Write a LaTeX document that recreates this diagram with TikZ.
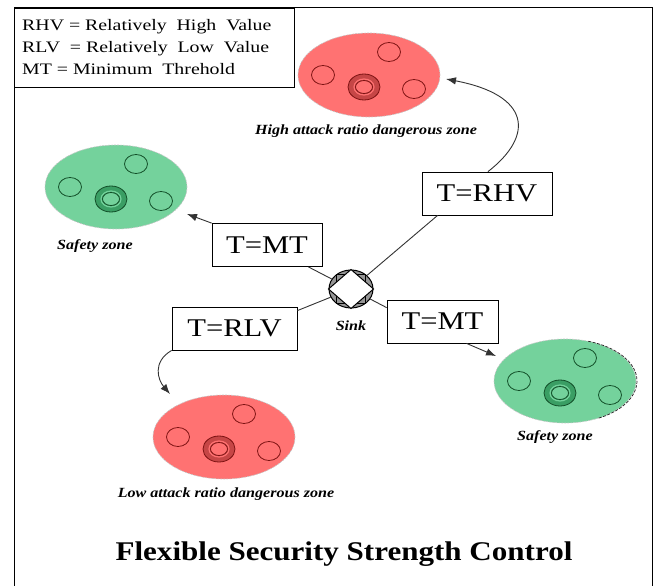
\documentclass[tikz,border=0pt]{standalone}
\usepackage{fontspec}
\setmainfont{Liberation Serif}
\usetikzlibrary{shapes.geometric,arrows.meta}
\definecolor{zonered}{RGB}{255,114,114}
\definecolor{zonegreen}{RGB}{116,210,156}
\definecolor{ringred}{RGB}{198,70,70}
\definecolor{ringgreen}{RGB}{58,158,100}
\definecolor{edgered}{RGB}{125,18,18}
\definecolor{edgegreen}{RGB}{18,78,40}
\definecolor{sinkgray}{RGB}{150,150,150}
% horizontally widened text
\newcommand\wide[2][1.15]{\scalebox{#1}[1]{#2}}

\begin{document}
\begin{tikzpicture}[x=1pt,y=-1pt,
  zone/.style={ellipse, minimum width=142, minimum height=84, inner sep=0,
    draw=gray!45, dash pattern=on 2pt off 1pt, line width=0.6pt},
  redzone/.style={zone, fill=zonered},
  greenzone/.style={zone, fill=zonegreen},
  zonelabel/.style={font=\fontsize{14}{16}\selectfont\bfseries\itshape, inner sep=0},
  tbox/.style={draw, line width=0.8pt, minimum height=43, inner sep=0,
    font=\fontsize{25.5}{30}\selectfont},
  link/.style={line width=0.9pt, black!80},
  arr/.style={link, -{Latex[length=10pt,width=7.5pt]}},
  pics/hosts/.style n args={3}{code={
    \draw[#1, line width=0.8pt]
      (-46,0) ellipse [x radius=11.5, y radius=9.5]
      (20,-23) ellipse [x radius=11.5, y radius=9.5]
      (45,14) ellipse [x radius=11.5, y radius=9.5];
    \draw[#1, fill=#2, line width=0.8pt] (-5,12) ellipse [x radius=16, y radius=13];
    \draw[#3, line width=1.2pt] (-5,12) ellipse [x radius=10, y radius=8];
    \draw[#1, fill=#3, line width=0.8pt] (-5,12) ellipse [x radius=8.5, y radius=6.5];
  }},
]
\useasboundingbox (0,0) rectangle (661,586);
\fill[white] (0,0) rectangle (661,586);

% outer frame
\draw[line width=1pt] (14,586) -- (14,8) -- (652,8) -- (652,586);

% legend
\node[draw, line width=1pt, anchor=north west, minimum width=280, minimum height=79,
  inner sep=0] (legend) at (14,8) {};
\node[anchor=west, inner sep=0, font=\fontsize{16}{22.3}\selectfont] (legendtext) at (22,48)
  {\wide[1.24]{\begin{tabular}{@{}l@{}}
    RHV = Relatively\ \ High\ \ Value\\
    RLV\ \ = Relatively\ \ Low\ \ Value\\
    MT = Minimum\ \ Threhold
  \end{tabular}}};

% zones
\node[redzone] (highzone) at (369,75) {};
\pic at (highzone.center) {hosts={edgered}{ringred}{zonered}};
\node[zonelabel] (highlabel) at (366,131) {\wide{High attack ratio dangerous zone}};

\node[greenzone] (leftsafe) at (116,187) {};
\pic at (leftsafe.center) {hosts={edgegreen}{ringgreen}{zonegreen}};
\node[zonelabel] (leftsafelabel) at (95,246) {\wide{Safety zone}};

\node[greenzone] (rightsafe) at (565,381) {};
\draw[gray!30!black, dash pattern=on 3pt off 1.5pt, line width=0.7pt]
  (565,381) ++(62:72 and 42) arc[start angle=62, end angle=-72, x radius=72, y radius=42];
\pic at (rightsafe.center) {hosts={edgegreen}{ringgreen}{zonegreen}};
\node[zonelabel] (rightsafelabel) at (555,437) {\wide{Safety zone}};

\node[redzone] (lowzone) at (224,437) {};
\pic at (lowzone.center) {hosts={edgered}{ringred}{zonered}};
\node[zonelabel] (lowlabel) at (226,494) {\wide{Low attack ratio dangerous zone}};

% sink
\node[ellipse, draw, line width=1pt, fill=sinkgray, minimum width=44, minimum height=38,
  inner sep=0] (sink) at (351,289) {};
\draw[line width=0.9pt] (sink.45) rectangle (sink.225);
\filldraw[fill=white, line width=1pt] (sink.north) -- (sink.east) -- (sink.south) -- (sink.west) -- cycle;
\node[zonelabel] (sinklabel) at (351,326) {\wide{Sink}};

% threshold boxes
\node[tbox, minimum width=130] (rhv) at (487,193.5) {\wide[1.2]{T=RHV}};
\node[tbox, minimum width=110] (mtl) at (267,245) {\wide[1.2]{T=MT}};
\node[tbox, minimum width=111] (mtr) at (442.5,321.5) {\wide[1.2]{T=MT}};
\node[tbox, minimum width=125] (rlv) at (234.5,328.5) {\wide[1.2]{T=RLV}};

% arrow tips
\coordinate (hightip) at (446,79);
\coordinate (lefttip) at (187,214);
\coordinate (righttip) at (496,356);
\coordinate (lowtip) at (170,394);

% connectors
\draw[link] (sink) -- ([xshift=16]rhv.south west);
\draw[arr] ([xshift=1]rhv.north) .. controls (535,135) and (530,95) .. (hightip);

\draw[link] (sink) -- ([xshift=-14]mtl.south east);
\draw[arr] (mtl.north west) -- (lefttip);

\draw[link] (sink) -- ([yshift=-8]mtr.north west);
\draw[arr] ([xshift=24]mtr.south) -- (righttip);

\draw[link] (sink) -- ([yshift=-4]rlv.north east);
\draw[arr] (rlv.south west) .. controls (152,362) and (158,380) .. (lowtip);

% title
\node[font=\fontsize{27}{30}\selectfont\bfseries, inner sep=0] (title) at (344,554)
  {\wide{Flexible Security Strength Control}};
\end{tikzpicture}
\end{document}
